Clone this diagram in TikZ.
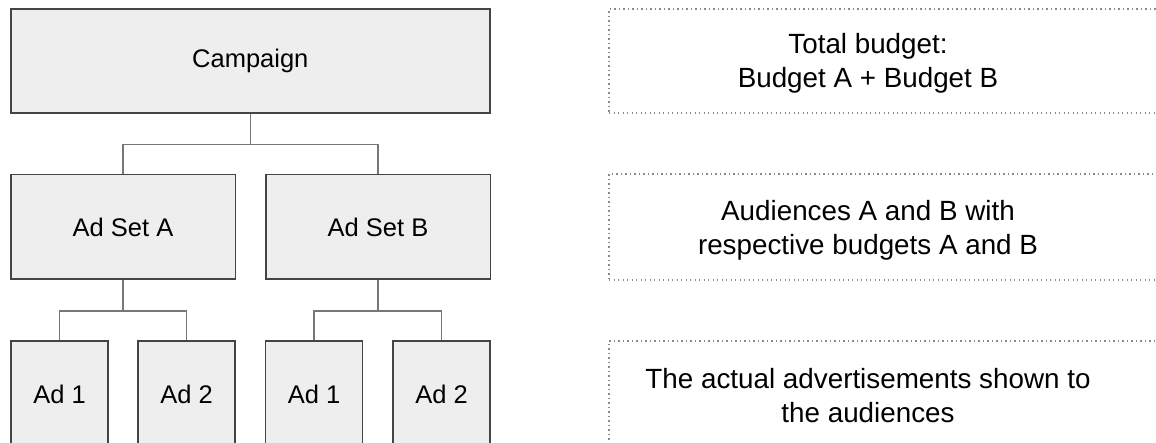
\documentclass[tikz,border=0pt]{standalone}
\usepackage{fontspec}
\setmainfont{Liberation Sans}
\definecolor{boxfill}{HTML}{EEEEEE}
\definecolor{boxline}{HTML}{444444}
\definecolor{connline}{HTML}{777777}
\definecolor{dotline}{HTML}{8A8A8A}
\tikzset{
  solidbox/.style={draw=boxline, fill=boxfill, line width=1.5pt, inner sep=0pt,
    font=\fontsize{25.5}{30}\selectfont},
  conn/.style={draw=connline, line width=1.2pt},
  notebox/.style={draw=dotline, line width=1.3pt, dash pattern=on 1.3pt off 3.2pt,
    minimum width=561pt, inner sep=0pt},
  notetext/.style={align=center, inner sep=0pt, font=\fontsize{27.8}{34}\selectfont}
}
\begin{document}
\begin{tikzpicture}[x=1pt, y=-1pt]
\useasboundingbox (0,0) rectangle (1156,443);
\clip (0,0) rectangle (1156,443);
\fill[white] (0,0) rectangle (1156,443);
% hierarchy
\node[solidbox, minimum width=479pt, minimum height=104pt] (camp) at (250.3,61) {Campaign};
\node[solidbox, minimum width=224.5pt, minimum height=104.5pt] (asA) at (123,227) {Ad Set A};
\node[solidbox, minimum width=224.5pt, minimum height=104.5pt] (asB) at (378,227) {Ad Set B};
\node[solidbox, minimum width=97pt, minimum height=106pt] (a1) at (59.5,394) {Ad 1};
\node[solidbox, minimum width=97pt, minimum height=106pt] (a2) at (186.5,394) {Ad 2};
\node[solidbox, minimum width=97pt, minimum height=106pt] (b1) at (314,394) {Ad 1};
\node[solidbox, minimum width=97pt, minimum height=106pt] (b2) at (441.5,394) {Ad 2};
% connectors
\draw[conn] (camp.south) -- ++(0,30.5) coordinate (j1);
\draw[conn] (asA.north) |- (j1) -| (asB.north);
\draw[conn] (asA.south) -- ++(0,31) coordinate (j2);
\draw[conn] (a1.north) |- (j2) -| (a2.north);
\draw[conn] (asB.south) -- ++(0,31) coordinate (j3);
\draw[conn] (b1.north) |- (j3) -| (b2.north);
% notes
\node[notebox, minimum height=104pt] (n1) at (889.5,61) {};
\node[notebox, minimum height=106pt] (n2) at (889.5,227) {};
\node[notebox, minimum height=108pt] (n3) at (889.5,395) {};
\node[notetext] (t1) at (868,63) {Total budget:\\Budget A + Budget B};
\node[notetext] (t2) at (868,230) {Audiences A and B with\\respective budgets A and B};
\node[notetext] (t3) at (868,396) {The actual advertisements shown to\\the audiences};
\end{tikzpicture}
\end{document}
